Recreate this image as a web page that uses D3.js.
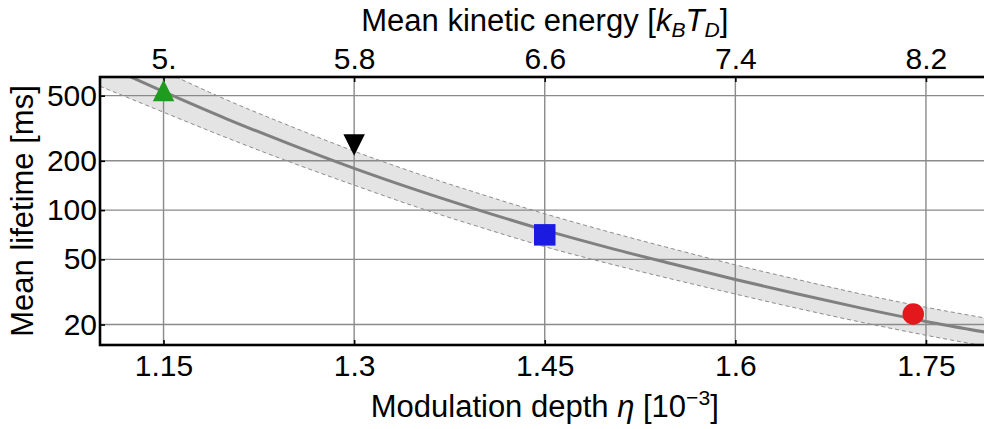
<!DOCTYPE html>
<html>
<head>
<meta charset="utf-8">
<script src="https://cdn.jsdelivr.net/npm/d3@7/dist/d3.min.js"></script>
<style>
  body { margin: 0; background: #fff; }
  svg text { font-family: "Liberation Sans", Arial, sans-serif; fill: #000; }
</style>
</head>
<body>
<svg id="chart" width="984" height="429"></svg>
<script>
// Mean lifetime vs. modulation depth, with uncertainty band
const eta = [1.10, 1.15, 1.20, 1.25, 1.30, 1.35, 1.40, 1.45, 1.50, 1.55, 1.60, 1.65, 1.70, 1.75, 1.80];
const lifetime = [790, 529, 360, 252, 180, 132, 99, 75.4, 59, 47, 37.7, 30.6, 25.1, 20.9, 17.8];
const lifetimeUpper = [1093, 707, 470, 325, 229, 167, 125, 95.0, 73.8, 58.2, 46.3, 37.5, 30.6, 25.5, 21.7];
const lifetimeLower = [571, 396, 276, 196, 142, 104, 78.3, 59.8, 47.2, 37.9, 30.7, 25.0, 20.6, 17.2, 14.6];

// Measured points
const markerEta = [1.15, 1.30, 1.45, 1.74];
const markerLifetime = [538, 250, 70.6, 23.2];
const markerShape = ["triangleUp", "triangleDown", "square", "circle"];
const markerColor = ["#1f9b1f", "#000000", "#1a1ae0", "#e4181c"];

// Axes
const etaDomain = [1.10, 1.80];
const lifetimeDomain = [15, 650];
const etaTicks = [1.15, 1.30, 1.45, 1.60, 1.75];
const etaTickLabels = ["1.15", "1.3", "1.45", "1.6", "1.75"];
const energyTicks = [5.0, 5.8, 6.6, 7.4, 8.2];
const energyTickLabels = ["5.", "5.8", "6.6", "7.4", "8.2"];
const lifetimeTicks = [20, 50, 100, 200, 500];
const lifetimeTickLabels = ["20", "50", "100", "200", "500"];

// Mean kinetic energy (k_B T_D) as a linear function of eta
const energyAtEta = e => 5.0 + (e - 1.15) * (0.8 / 0.15);

const svg = d3.select("#chart");
const L = 100, T = 77, R = 989.5, B = 345;
const tickFont = 30;
const titleFont = 31;

const x = d3.scaleLinear().domain(etaDomain).range([L, R]);
const xTop = d3.scaleLinear().domain(etaDomain.map(energyAtEta)).range([L, R]);
const y = d3.scaleLog().domain(lifetimeDomain).range([B, T]);

svg.append("defs").append("clipPath").attr("id", "plotClip")
  .append("rect").attr("x", L).attr("y", T).attr("width", R - L).attr("height", B - T);

const plot = svg.append("g").attr("clip-path", "url(#plotClip)");

const idx = d3.range(eta.length);

// Band
plot.append("path")
  .attr("d", d3.area()
    .x(i => x(eta[i]))
    .y0(i => y(lifetimeLower[i]))
    .y1(i => y(lifetimeUpper[i]))
    .curve(d3.curveMonotoneX)(idx))
  .attr("fill", "#e4e4e4");

// Grid
plot.append("g").selectAll("line").data(etaTicks).join("line")
  .attr("x1", d => x(d)).attr("x2", d => x(d)).attr("y1", T).attr("y2", B)
  .attr("stroke", "#8a8a8a").attr("stroke-width", 1.4);
plot.append("g").selectAll("line").data(lifetimeTicks).join("line")
  .attr("x1", L).attr("x2", R).attr("y1", d => y(d)).attr("y2", d => y(d))
  .attr("stroke", "#8a8a8a").attr("stroke-width", 1.4);

// Band edges
[lifetimeUpper, lifetimeLower].forEach(arr => {
  plot.append("path")
    .attr("d", d3.line().x(i => x(eta[i])).y(i => y(arr[i])).curve(d3.curveMonotoneX)(idx))
    .attr("fill", "none").attr("stroke", "#8c8c8c").attr("stroke-width", 1)
    .attr("stroke-dasharray", "4,3");
});

// Central curve
plot.append("path")
  .attr("d", d3.line().x(i => x(eta[i])).y(i => y(lifetime[i])).curve(d3.curveMonotoneX)(idx))
  .attr("fill", "none").attr("stroke", "#808080").attr("stroke-width", 3);

// Axes with inward ticks
const axBottom = d3.axisBottom(x).tickValues(etaTicks).tickFormat((d, i) => etaTickLabels[i])
  .tickSizeInner(-5).tickSizeOuter(0).tickPadding(10);
const axTop = d3.axisTop(xTop).tickValues(energyTicks).tickFormat((d, i) => energyTickLabels[i])
  .tickSizeInner(-5).tickSizeOuter(0).tickPadding(8);
const axLeft = d3.axisLeft(y).tickValues(lifetimeTicks).tickFormat((d, i) => lifetimeTickLabels[i])
  .tickSizeInner(-5).tickSizeOuter(0).tickPadding(3);

function styleAxis(g) {
  g.select(".domain").remove();
  g.selectAll(".tick line").attr("stroke", "#000").attr("stroke-width", 1.6);
  g.selectAll(".tick text").attr("font-size", tickFont);
  g.attr("font-family", null).attr("font-size", null);
}
svg.append("g").attr("transform", `translate(0,${B})`).call(axBottom).call(styleAxis);
svg.append("g").attr("transform", `translate(0,${T})`).call(axTop).call(styleAxis);
svg.append("g").attr("transform", `translate(${L},0)`).call(axLeft).call(styleAxis);

// Frame
svg.append("rect").attr("x", L).attr("y", T).attr("width", R - L).attr("height", B - T)
  .attr("fill", "none").attr("stroke", "#000").attr("stroke-width", 2.6);

// Markers
const mSize = 21.5;
function markerPath(shape) {
  const h = mSize / 2;
  if (shape === "triangleUp") return `M0,${-h}L${h},${h}L${-h},${h}Z`;
  if (shape === "triangleDown") return `M0,${h}L${h},${-h}L${-h},${-h}Z`;
  if (shape === "square") return `M${-h},${-h}H${h}V${h}H${-h}Z`;
  return d3.symbol(d3.symbolCircle, Math.PI * h * h)();
}
svg.append("g").selectAll("path").data(markerEta.map((e, i) => i)).join("path")
  .attr("transform", i => `translate(${x(markerEta[i])},${y(markerLifetime[i])})`)
  .attr("d", i => markerPath(markerShape[i]))
  .attr("fill", i => markerColor[i]);

// Axis titles
const bottomTitle = svg.append("text").attr("x", (L + R) / 2).attr("y", 417)
  .attr("text-anchor", "middle").attr("font-size", titleFont);
bottomTitle.append("tspan").text("Modulation depth ");
bottomTitle.append("tspan").attr("font-style", "italic").text("η");
bottomTitle.append("tspan").text(" [10");
bottomTitle.append("tspan").attr("font-size", titleFont * 0.68).attr("dy", -12).text("−3");
bottomTitle.append("tspan").attr("dy", 12).text("]");

const topTitle = svg.append("text").attr("x", (L + R) / 2).attr("y", 31)
  .attr("text-anchor", "middle").attr("font-size", titleFont);
topTitle.append("tspan").text("Mean kinetic energy [");
topTitle.append("tspan").attr("font-style", "italic").text("k");
topTitle.append("tspan").attr("font-style", "italic").attr("font-size", titleFont * 0.68).attr("dy", 6).text("B");
topTitle.append("tspan").attr("font-style", "italic").attr("dy", -6).text("T");
topTitle.append("tspan").attr("font-style", "italic").attr("font-size", titleFont * 0.68).attr("dy", 6).text("D");
topTitle.append("tspan").attr("dy", -6).text("]");

svg.append("text").attr("transform", `translate(33,211) rotate(-90)`)
  .attr("text-anchor", "middle").attr("font-size", titleFont).text("Mean lifetime [ms]");
</script>
</body>
</html>
